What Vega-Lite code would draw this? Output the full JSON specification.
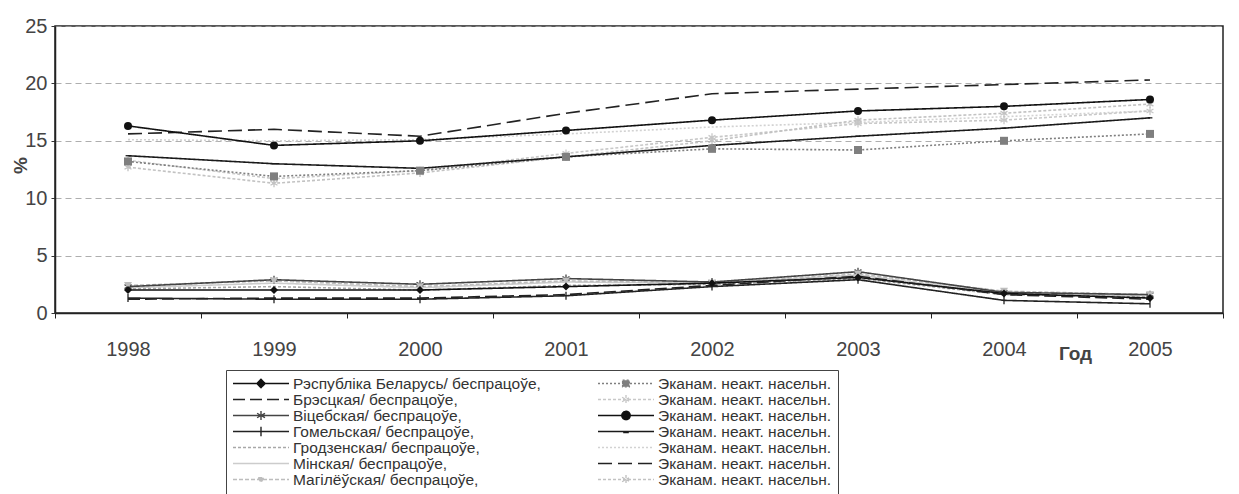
{
  "$schema": "https://vega.github.io/schema/vega-lite/v6.json",
  "width": 1168,
  "height": 287,
  "autosize": {"type": "none"},
  "padding": {"left": 55, "top": 26, "right": 16, "bottom": 181},
  "background": "white",
  "config": {
    "font": "Liberation Sans",
    "view": {"stroke": "#222222", "strokeWidth": 1.5}
  },
  "data": {
    "values": [
      {"year": "1998", "series": "s10", "value": 15.1}, {"year": "1999", "series": "s10", "value": 15.0}, {"year": "2000", "series": "s10", "value": 15.1}, {"year": "2001", "series": "s10", "value": 15.6}, {"year": "2002", "series": "s10", "value": 16.2}, {"year": "2003", "series": "s10", "value": 16.6}, {"year": "2004", "series": "s10", "value": 17.1}, {"year": "2005", "series": "s10", "value": 17.6},
      {"year": "1998", "series": "s04", "value": 13.3}, {"year": "1999", "series": "s04", "value": 11.7}, {"year": "2000", "series": "s04", "value": 12.4}, {"year": "2001", "series": "s04", "value": 13.9}, {"year": "2002", "series": "s04", "value": 15.3}, {"year": "2003", "series": "s04", "value": 16.5}, {"year": "2004", "series": "s04", "value": 16.8}, {"year": "2005", "series": "s04", "value": 17.6},
      {"year": "1998", "series": "s14", "value": 12.7}, {"year": "1999", "series": "s14", "value": 11.3}, {"year": "2000", "series": "s14", "value": 12.2}, {"year": "2001", "series": "s14", "value": 13.6}, {"year": "2002", "series": "s14", "value": 15.0}, {"year": "2003", "series": "s14", "value": 16.8}, {"year": "2004", "series": "s14", "value": 17.4}, {"year": "2005", "series": "s14", "value": 18.2},
      {"year": "1998", "series": "s02", "value": 13.2}, {"year": "1999", "series": "s02", "value": 11.9}, {"year": "2000", "series": "s02", "value": 12.4}, {"year": "2001", "series": "s02", "value": 13.6}, {"year": "2002", "series": "s02", "value": 14.3}, {"year": "2003", "series": "s02", "value": 14.2}, {"year": "2004", "series": "s02", "value": 15.0}, {"year": "2005", "series": "s02", "value": 15.6},
      {"year": "1998", "series": "s08", "value": 13.7}, {"year": "1999", "series": "s08", "value": 13.0}, {"year": "2000", "series": "s08", "value": 12.6}, {"year": "2001", "series": "s08", "value": 13.6}, {"year": "2002", "series": "s08", "value": 14.6}, {"year": "2003", "series": "s08", "value": 15.4}, {"year": "2004", "series": "s08", "value": 16.1}, {"year": "2005", "series": "s08", "value": 17.0},
      {"year": "1998", "series": "s12", "value": 15.6}, {"year": "1999", "series": "s12", "value": 16.0}, {"year": "2000", "series": "s12", "value": 15.4}, {"year": "2001", "series": "s12", "value": 17.4}, {"year": "2002", "series": "s12", "value": 19.1}, {"year": "2003", "series": "s12", "value": 19.5}, {"year": "2004", "series": "s12", "value": 19.9}, {"year": "2005", "series": "s12", "value": 20.3},
      {"year": "1998", "series": "s06", "value": 16.3}, {"year": "1999", "series": "s06", "value": 14.6}, {"year": "2000", "series": "s06", "value": 15.0}, {"year": "2001", "series": "s06", "value": 15.9}, {"year": "2002", "series": "s06", "value": 16.8}, {"year": "2003", "series": "s06", "value": 17.6}, {"year": "2004", "series": "s06", "value": 18.0}, {"year": "2005", "series": "s06", "value": 18.6},
      {"year": "1998", "series": "s11", "value": 2.2}, {"year": "1999", "series": "s11", "value": 2.6}, {"year": "2000", "series": "s11", "value": 2.2}, {"year": "2001", "series": "s11", "value": 2.7}, {"year": "2002", "series": "s11", "value": 2.6}, {"year": "2003", "series": "s11", "value": 3.3}, {"year": "2004", "series": "s11", "value": 1.7}, {"year": "2005", "series": "s11", "value": 1.5},
      {"year": "1998", "series": "s09", "value": 2.1}, {"year": "1999", "series": "s09", "value": 2.3}, {"year": "2000", "series": "s09", "value": 2.0}, {"year": "2001", "series": "s09", "value": 2.4}, {"year": "2002", "series": "s09", "value": 2.5}, {"year": "2003", "series": "s09", "value": 3.0}, {"year": "2004", "series": "s09", "value": 1.6}, {"year": "2005", "series": "s09", "value": 1.4},
      {"year": "1998", "series": "s13", "value": 2.4}, {"year": "1999", "series": "s13", "value": 2.8}, {"year": "2000", "series": "s13", "value": 2.3}, {"year": "2001", "series": "s13", "value": 2.8}, {"year": "2002", "series": "s13", "value": 2.6}, {"year": "2003", "series": "s13", "value": 3.4}, {"year": "2004", "series": "s13", "value": 1.9}, {"year": "2005", "series": "s13", "value": 1.6},
      {"year": "1998", "series": "s05", "value": 2.3}, {"year": "1999", "series": "s05", "value": 2.9}, {"year": "2000", "series": "s05", "value": 2.5}, {"year": "2001", "series": "s05", "value": 3.0}, {"year": "2002", "series": "s05", "value": 2.7}, {"year": "2003", "series": "s05", "value": 3.6}, {"year": "2004", "series": "s05", "value": 1.8}, {"year": "2005", "series": "s05", "value": 1.6},
      {"year": "1998", "series": "s01", "value": 2.0}, {"year": "1999", "series": "s01", "value": 2.0}, {"year": "2000", "series": "s01", "value": 2.0}, {"year": "2001", "series": "s01", "value": 2.3}, {"year": "2002", "series": "s01", "value": 2.6}, {"year": "2003", "series": "s01", "value": 3.1}, {"year": "2004", "series": "s01", "value": 1.7}, {"year": "2005", "series": "s01", "value": 1.3},
      {"year": "1998", "series": "s03", "value": 1.2}, {"year": "1999", "series": "s03", "value": 1.3}, {"year": "2000", "series": "s03", "value": 1.3}, {"year": "2001", "series": "s03", "value": 1.6}, {"year": "2002", "series": "s03", "value": 2.4}, {"year": "2003", "series": "s03", "value": 3.2}, {"year": "2004", "series": "s03", "value": 1.6}, {"year": "2005", "series": "s03", "value": 1.2},
      {"year": "1998", "series": "s07", "value": 1.3}, {"year": "1999", "series": "s07", "value": 1.2}, {"year": "2000", "series": "s07", "value": 1.2}, {"year": "2001", "series": "s07", "value": 1.5}, {"year": "2002", "series": "s07", "value": 2.3}, {"year": "2003", "series": "s07", "value": 2.9}, {"year": "2004", "series": "s07", "value": 1.1}, {"year": "2005", "series": "s07", "value": 0.8}
    ]
  },
  "encoding": {
    "x": {
      "field": "year",
      "type": "ordinal",
      "bandPosition": 0.5,
      "scale": {"type": "band", "paddingInner": 0, "paddingOuter": 0},
      "axis": {
        "title": "Год",
        "titleFont": "Liberation Sans",
        "titleFontWeight": "bold",
        "titleFontSize": 19,
        "titleColor": "#444444",
        "titleX": 1020,
        "titleY": 40,
        "titleAlign": "center",
        "titleBaseline": "middle",
        "labelAngle": 0,
        "labelFontSize": 20,
        "labelColor": "#444444",
        "labelPadding": 21,
        "tickBand": "extent",
        "tickSize": 5,
        "tickColor": "#222222",
        "domainColor": "#222222",
        "domainWidth": 1.5,
        "grid": false
      }
    },
    "y": {
      "field": "value",
      "type": "quantitative",
      "scale": {"domain": [0, 25], "nice": false},
      "axis": {
        "title": "%",
        "titleFontSize": 19,
        "titleFontWeight": "bold",
        "titleColor": "#444444",
        "titleX": -35,
        "titleY": 139,
        "titleAlign": "center",
        "titleBaseline": "middle",
        "values": [0, 5, 10, 15, 20, 25],
        "labelFontSize": 20,
        "labelColor": "#444444",
        "labelPadding": 4,
        "tickSize": 4,
        "tickColor": "#333333",
        "domainColor": "#222222",
        "domainWidth": 1.5,
        "grid": true,
        "gridDash": [6, 4],
        "gridColor": "#999999",
        "gridWidth": 0.8
      }
    },
    "color": {
      "field": "series",
      "type": "nominal",
      "scale": {
        "domain": ["s01", "s03", "s05", "s07", "s09", "s11", "s13", "s02", "s04", "s06", "s08", "s10", "s12", "s14"],
        "range": ["#111111", "#222222", "#444444", "#222222", "#a8a8a8", "#cccccc", "#bdbdbd", "#7f7f7f", "#c8c8c8", "#111111", "#1a1a1a", "#d2d2d2", "#222222", "#c2c2c2"]
      },
      "legend": {
        "orient": "none",
        "legendX": 171,
        "legendY": 344,
        "columns": 2,
        "title": null,
        "labelExpr": "({'s01':'Рэспубліка Беларусь/ беспрацоўе,','s03':'Брэсцкая/ беспрацоўе,','s05':'Віцебская/ беспрацоўе,','s07':'Гомельская/ беспрацоўе,','s09':'Гродзенская/ беспрацоўе,','s11':'Мінская/ беспрацоўе,','s13':'Магілёўская/ беспрацоўе,'})[datum.value] || 'Эканам. неакт. насельн.'",
        "labelFont": "Liberation Sans",
        "labelFontSize": 15.5,
        "labelColor": "#333333",
        "labelLimit": 500,
        "labelOffset": 3,
        "symbolSize": 3136,
        "symbolStrokeWidth": 1.4,
        "clipHeight": 15,
        "rowPadding": -1.8,
        "columnPadding": 56,
        "padding": 6,
        "strokeColor": "#444444",
        "fillColor": "white",
        "encode": {
          "symbols": {
            "update": {
              "shape": {"signal": "({'s01':'M-1,0H1M0,-0.15L0.15,0L0,0.15L-0.15,0Z','s02':'M-1,0H1M-0.12,-0.12H0.12V0.12H-0.12Z','s04':'M-1,0H1M0,-0.16V0.16M-0.14,-0.08L0.14,0.08M-0.14,0.08L0.14,-0.08','s05':'M-1,0H1M0,-0.16V0.16M-0.14,-0.08L0.14,0.08M-0.14,0.08L0.14,-0.08','s06':'M-1,0H1M-0.15,0A0.15,0.15,0,1,0,0.15,0A0.15,0.15,0,1,0,-0.15,0Z','s07':'M-1,0H1M0,-0.17V0.17','s08':'M-1,0H1M-0.1,0.04H0.1','s13':'M-1,0H1M-0.1,-0.06L0.1,-0.06L0,0.1Z','s14':'M-1,0H1M0,-0.16V0.16M-0.14,-0.08L0.14,0.08M-0.14,0.08L0.14,-0.08'})[datum.value] || 'M-1,0H1'"},
              "fill": {"signal": "({'s01':'#111111','s02':'#7f7f7f','s06':'#111111','s13':'#bdbdbd'})[datum.value] || 'transparent'"},
              "strokeDash": {"signal": "({'s02':[2,2],'s03':[12,5],'s04':[3,2],'s09':[3,2],'s10':[2,2],'s12':[14,6],'s13':[4,2],'s14':[3,2]})[datum.value] || [1,0]"}
            }
          }
        }
      }
    }
  },
  "layer": [
    {
      "mark": {"type": "line", "strokeWidth": 1.6},
      "encoding": {
        "strokeDash": {
          "field": "series",
          "type": "nominal",
          "legend": null,
          "scale": {
            "domain": ["s01", "s02", "s03", "s04", "s05", "s06", "s07", "s08", "s09", "s10", "s11", "s12", "s13", "s14"],
            "range": [[1, 0], [2, 2], [12, 5], [3, 2], [1, 0], [1, 0], [1, 0], [1, 0], [3, 2], [2, 2], [1, 0], [14, 6], [4, 2], [3, 2]]
          }
        }
      }
    },
    {
      "transform": [{"filter": {"field": "series", "oneOf": ["s04", "s05", "s07", "s08", "s14"]}}],
      "mark": {"type": "point", "filled": false, "size": 64, "strokeWidth": 1.3, "opacity": 1},
      "encoding": {
        "shape": {
          "field": "series",
          "type": "nominal",
          "legend": null,
          "scale": {
            "domain": ["s01", "s02", "s04", "s05", "s06", "s07", "s08", "s13", "s14"],
            "range": ["diamond", "square", "M0,-1V1M-0.87,-0.5L0.87,0.5M-0.87,0.5L0.87,-0.5", "M0,-1V1M-0.87,-0.5L0.87,0.5M-0.87,0.5L0.87,-0.5", "circle", "M0,-1V1", "M-0.6,0H0.6", "triangle-down", "M0,-1V1M-0.87,-0.5L0.87,0.5M-0.87,0.5L0.87,-0.5"]
          }
        }
      }
    },
    {
      "transform": [{"filter": {"field": "series", "oneOf": ["s01", "s02", "s06", "s13"]}}],
      "mark": {"type": "point", "filled": true, "size": 64, "opacity": 1},
      "encoding": {
        "shape": {
          "field": "series",
          "type": "nominal",
          "legend": null
        }
      }
    }
  ]
}
